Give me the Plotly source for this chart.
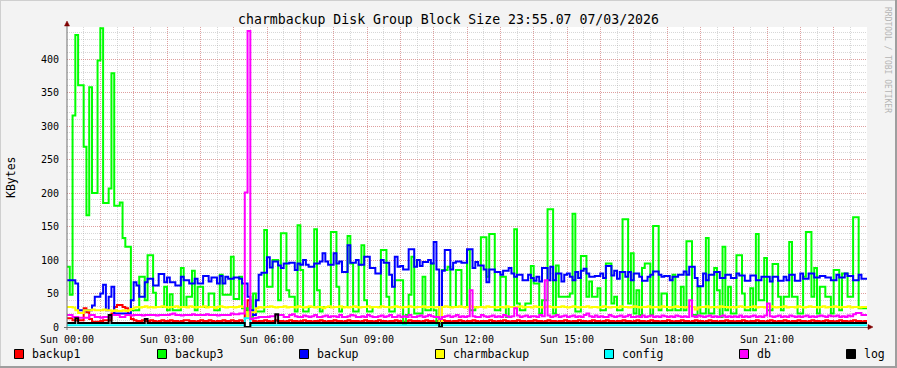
import numpy as np
import plotly.graph_objects as go

# ---------------- data (5-minute steps, 24 h, values in KBytes) ----------------
STEP_MIN = 5
TICK_LABELS = ["Sun 00:00", "Sun 03:00", "Sun 06:00", "Sun 09:00",
               "Sun 12:00", "Sun 15:00", "Sun 18:00", "Sun 21:00"]
Y_TICKS = [0, 50, 100, 150, 200, 250, 300, 350, 400]

BACKUP1 = [
    13, 13, 10, 10, 10, 10, 28, 22, 12, 8, 8, 8,
    9, 10, 10, 10, 20, 30, 33, 33, 30, 28, 18, 12,
    10, 9, 9, 10, 9, 9, 10, 9, 8, 9, 10, 9,
    9, 10, 9, 9, 8, 9, 10, 10, 9, 9, 8, 9,
    10, 9, 9, 10, 9, 8, 9, 9, 10, 9, 9, 10,
    9, 9, 10, 9, 25, 40, 12, 9, 8, 9, 9, 10,
    9, 8, 9, 10, 9, 9, 8, 9, 10, 9, 9, 8,
    9, 10, 9, 9, 8, 9, 9, 10, 9, 8, 9, 9,
    10, 9, 9, 8, 9, 10, 9, 9, 9, 8, 9, 10,
    9, 9, 8, 9, 10, 9, 9, 8, 9, 9, 10, 9,
    9, 8, 9, 10, 9, 9, 9, 8, 9, 10, 9, 9,
    8, 9, 9, 10, 9, 9, 8, 9, 9, 10, 9, 8,
    9, 9, 10, 9, 8, 9, 9, 9, 10, 9, 8, 9,
    9, 10, 9, 8, 9, 9, 10, 9, 9, 8, 9, 9,
    10, 9, 9, 8, 9, 10, 9, 9, 8, 9, 9, 10,
    9, 8, 9, 9, 10, 9, 9, 8, 9, 10, 9, 9,
    8, 9, 10, 9, 9, 8, 9, 9, 10, 9, 9, 8,
    9, 10, 9, 9, 8, 9, 10, 9, 9, 8, 9, 9,
    10, 9, 8, 9, 9, 10, 9, 9, 8, 9, 10, 9,
    9, 8, 9, 10, 9, 9, 8, 9, 9, 10, 9, 9,
    8, 9, 9, 10, 9, 8, 9, 9, 10, 9, 9, 8,
    9, 10, 9, 8, 9, 9, 10, 9, 8, 9, 9, 10,
    9, 9, 8, 9, 10, 9, 9, 8, 9, 10, 9, 9,
    8, 9, 10, 9, 9, 8, 9, 10, 9, 9, 8, 9,
]

BACKUP3 = [
    90, 48, 316, 436, 361, 361, 269, 167, 358, 200, 200, 398,
    446, 185, 185, 207, 379, 181, 181, 186, 133, 120, 120, 25,
    25, 25, 75, 75, 40, 107, 107, 51, 30, 30, 30, 60,
    25, 49, 25, 25, 25, 88, 30, 45, 45, 84, 25, 60,
    60, 30, 30, 50, 50, 25, 25, 78, 48, 48, 48, 105,
    42, 42, 75, 28, 28, 15, 15, 50, 23, 23, 23, 145,
    60, 60, 100, 100, 40, 140, 140, 55, 45, 45, 23, 152,
    85, 23, 23, 30, 30, 146, 55, 23, 30, 30, 30, 142,
    142, 60, 23, 30, 30, 136, 95, 23, 23, 93, 122, 40,
    23, 23, 30, 30, 30, 115, 115, 45, 23, 23, 70, 70,
    70, 3, 18, 48, 105, 20, 20, 20, 75, 25, 25, 95,
    25, 5, 5, 85, 85, 90, 30, 30, 85, 85, 30, 30,
    115, 25, 25, 30, 30, 134, 134, 75, 139, 139, 25, 25,
    75, 75, 15, 30, 30, 146, 35, 25, 25, 35, 35, 91,
    65, 65, 20, 40, 40, 176, 176, 20, 92, 45, 45, 45,
    45, 50, 169, 23, 23, 106, 106, 45, 68, 45, 45, 58,
    25, 25, 95, 95, 35, 45, 25, 25, 161, 161, 35, 110,
    20, 55, 18, 88, 95, 95, 18, 151, 151, 25, 50, 50,
    25, 25, 78, 25, 25, 60, 25, 128, 128, 18, 18, 60,
    20, 20, 133, 20, 20, 88, 55, 15, 120, 25, 60, 20,
    20, 107, 107, 50, 25, 25, 58, 25, 139, 40, 40, 103,
    25, 25, 94, 94, 45, 25, 45, 45, 127, 45, 45, 20,
    20, 75, 142, 142, 45, 88, 20, 60, 60, 45, 45, 20,
    85, 85, 25, 80, 80, 45, 45, 164, 164, 28, 28, 28,
]

BACKUP = [
    70, 70, 70, 65, 25, 25, 25, 25, 25, 32, 45, 45,
    50, 63, 25, 45, 60, 20, 20, 20, 20, 20, 20, 40,
    67, 62, 45, 45, 67, 72, 72, 62, 62, 79, 79, 67,
    74, 67, 67, 62, 62, 75, 70, 70, 65, 65, 72, 65,
    65, 76, 76, 68, 74, 74, 65, 76, 65, 75, 72, 72,
    74, 74, 72, 65, 65, 45, 25, 18, 40, 78, 81, 81,
    104, 89, 98, 98, 92, 88, 95, 95, 96, 96, 85, 95,
    93, 100, 93, 90, 90, 95, 95, 98, 110, 98, 93, 93,
    110, 95, 98, 82, 82, 122, 96, 96, 100, 93, 93, 105,
    105, 88, 88, 80, 80, 100, 96, 96, 78, 60, 105, 90,
    91, 86, 86, 116, 116, 90, 100, 91, 97, 97, 100, 95,
    127, 86, 2, 84, 115, 115, 86, 96, 98, 98, 96, 96,
    116, 116, 88, 97, 92, 92, 86, 67, 86, 86, 82, 82,
    78, 84, 84, 88, 80, 75, 78, 78, 70, 70, 78, 73,
    69, 75, 68, 88, 88, 70, 90, 70, 80, 80, 68, 78,
    80, 75, 70, 82, 73, 84, 87, 80, 75, 75, 76, 76,
    80, 73, 91, 91, 77, 84, 72, 82, 82, 75, 82, 70,
    80, 80, 75, 69, 69, 75, 78, 83, 83, 78, 75, 76,
    76, 70, 75, 75, 78, 78, 83, 78, 90, 90, 73, 61,
    61, 80, 70, 78, 78, 82, 82, 73, 73, 78, 78, 73,
    73, 80, 77, 77, 69, 69, 77, 77, 70, 70, 75, 75,
    75, 68, 75, 75, 69, 69, 75, 70, 78, 78, 69, 69,
    80, 72, 72, 80, 80, 74, 74, 76, 76, 74, 74, 70,
    70, 78, 74, 74, 80, 76, 76, 70, 70, 78, 72, 72,
]

CHARMBACKUP = [
    30, 30, 29, 25, 21, 21, 25, 25, 25, 26, 25, 25,
    25, 26, 25, 25, 24, 25, 24, 24, 25, 24, 25, 27,
    29, 30, 29, 30, 31, 29, 30, 29, 30, 30, 31, 30,
    29, 30, 30, 31, 29, 30, 30, 29, 31, 30, 29, 30,
    30, 31, 29, 30, 30, 28, 30, 31, 30, 29, 30, 30,
    29, 30, 31, 30, 22, 15, 22, 22, 28, 30, 29, 30,
    30, 31, 30, 29, 30, 30, 31, 29, 30, 30, 29, 31,
    30, 29, 30, 31, 30, 29, 30, 30, 28, 30, 31, 29,
    30, 30, 31, 29, 30, 29, 30, 31, 30, 29, 30, 30,
    31, 29, 30, 30, 29, 31, 30, 30, 29, 30, 31, 30,
    29, 30, 30, 31, 30, 29, 30, 30, 31, 29, 30, 30,
    29, 30, 3, 30, 31, 30, 29, 30, 30, 31, 30, 29,
    30, 31, 30, 29, 30, 30, 29, 31, 30, 30, 29, 30,
    30, 29, 31, 30, 30, 29, 30, 31, 29, 30, 30, 29,
    31, 30, 30, 29, 30, 31, 30, 29, 30, 30, 31, 30,
    29, 30, 31, 30, 29, 30, 30, 31, 29, 30, 30, 29,
    30, 31, 30, 29, 30, 30, 29, 31, 30, 30, 29, 30,
    31, 30, 29, 30, 30, 31, 29, 30, 30, 29, 31, 30,
    30, 29, 30, 31, 30, 30, 29, 30, 31, 30, 26, 29,
    30, 30, 31, 29, 30, 30, 29, 31, 30, 30, 29, 30,
    29, 30, 31, 30, 29, 30, 30, 31, 29, 30, 30, 29,
    30, 31, 30, 29, 30, 30, 31, 29, 30, 30, 29, 31,
    30, 29, 30, 31, 30, 30, 29, 30, 31, 29, 30, 30,
    31, 30, 29, 30, 30, 31, 29, 30, 30, 29, 30, 30,
]

CONFIG = [
    2.5, 2.5, 2.5, 2.5, 2.5, 2.5, 2.5, 2.5, 2.5, 2.5, 2.5, 2.5,
    2.5, 2.5, 2.5, 2.5, 2.5, 2.5, 2.5, 2.5, 2.5, 2.5, 2.5, 2.5,
    2.5, 2.5, 2.5, 2.5, 2.5, 2.5, 2.5, 2.5, 2.5, 2.5, 2.5, 2.5,
    2.5, 2.5, 2.5, 2.5, 2.5, 2.5, 2.5, 2.5, 2.5, 2.5, 2.5, 2.5,
    2.5, 2.5, 2.5, 2.5, 2.5, 2.5, 2.5, 2.5, 2.5, 2.5, 2.5, 2.5,
    2.5, 2.5, 2.5, 2.5, 13, 13, 2.5, 2.5, 2.5, 2.5, 2.5, 2.5,
    2.5, 2.5, 2.5, 2.5, 2.5, 2.5, 2.5, 2.5, 2.5, 2.5, 2.5, 2.5,
    2.5, 2.5, 2.5, 2.5, 2.5, 2.5, 2.5, 2.5, 2.5, 2.5, 2.5, 2.5,
    2.5, 2.5, 2.5, 2.5, 2.5, 2.5, 2.5, 2.5, 2.5, 2.5, 2.5, 2.5,
    2.5, 2.5, 2.5, 2.5, 2.5, 2.5, 2.5, 2.5, 2.5, 2.5, 2.5, 2.5,
    2.5, 2.5, 2.5, 2.5, 2.5, 2.5, 2.5, 2.5, 2.5, 2.5, 2.5, 2.5,
    2.5, 2.5, 2.5, 2.5, 2.5, 2.5, 2.5, 2.5, 2.5, 2.5, 2.5, 2.5,
    2.5, 2.5, 2.5, 2.5, 2.5, 2.5, 2.5, 2.5, 2.5, 2.5, 2.5, 2.5,
    2.5, 2.5, 2.5, 2.5, 2.5, 2.5, 2.5, 2.5, 2.5, 2.5, 2.5, 2.5,
    2.5, 2.5, 2.5, 2.5, 2.5, 2.5, 2.5, 2.5, 2.5, 2.5, 2.5, 2.5,
    2.5, 2.5, 2.5, 2.5, 2.5, 2.5, 2.5, 2.5, 2.5, 2.5, 2.5, 2.5,
    2.5, 2.5, 2.5, 2.5, 2.5, 2.5, 2.5, 2.5, 2.5, 2.5, 2.5, 2.5,
    2.5, 2.5, 2.5, 2.5, 2.5, 2.5, 2.5, 2.5, 2.5, 2.5, 2.5, 2.5,
    2.5, 2.5, 2.5, 2.5, 2.5, 2.5, 2.5, 2.5, 2.5, 2.5, 2.5, 2.5,
    2.5, 2.5, 2.5, 2.5, 2.5, 2.5, 2.5, 2.5, 2.5, 2.5, 2.5, 2.5,
    2.5, 2.5, 2.5, 2.5, 2.5, 2.5, 2.5, 2.5, 2.5, 2.5, 2.5, 2.5,
    2.5, 2.5, 2.5, 2.5, 2.5, 2.5, 2.5, 2.5, 2.5, 2.5, 2.5, 2.5,
    2.5, 2.5, 2.5, 2.5, 2.5, 2.5, 2.5, 2.5, 2.5, 2.5, 2.5, 2.5,
    2.5, 2.5, 2.5, 2.5, 2.5, 2.5, 2.5, 2.5, 2.5, 2.5, 2.5, 2.5,
]

DB = [
    18, 18, 15, 15, 14, 14, 14, 14, 18, 18, 15, 15,
    14, 15, 15, 14, 18, 18, 18, 15, 15, 18, 18, 17,
    18, 18, 18, 17, 18, 18, 18, 18, 17, 18, 18, 18,
    18, 19, 20, 18, 18, 17, 18, 18, 18, 19, 18, 18,
    18, 18, 19, 18, 18, 18, 17, 18, 18, 18, 18, 20,
    19, 19, 20, 20, 201, 442, 12, 13, 14, 15, 15, 15,
    15, 16, 16, 18, 18, 18, 15, 15, 18, 19, 16, 15,
    15, 17, 16, 15, 16, 18, 15, 15, 16, 17, 15, 16,
    16, 15, 18, 15, 15, 16, 18, 17, 15, 15, 16, 15,
    18, 16, 15, 15, 16, 17, 15, 16, 18, 15, 15, 17,
    15, 16, 15, 18, 15, 15, 16, 17, 15, 16, 18, 16,
    15, 15, 12, 15, 16, 17, 15, 16, 18, 15, 16, 15,
    16, 55, 16, 15, 15, 18, 16, 15, 16, 17, 15, 16,
    15, 18, 16, 15, 16, 28, 17, 15, 16, 17, 15, 16,
    16, 15, 18, 16, 70, 17, 15, 16, 18, 15, 16, 17,
    15, 16, 17, 15, 16, 15, 18, 20, 16, 15, 17, 15,
    16, 15, 15, 18, 16, 15, 16, 17, 15, 16, 18, 15,
    15, 16, 15, 17, 15, 16, 17, 15, 16, 15, 17, 16,
    15, 16, 15, 17, 16, 15, 16, 15, 40, 16, 15, 17,
    16, 15, 16, 17, 15, 16, 15, 16, 17, 15, 16, 15,
    16, 15, 17, 15, 16, 15, 16, 17, 15, 16, 15, 17,
    35, 16, 15, 16, 17, 15, 16, 15, 17, 16, 15, 16,
    15, 16, 17, 15, 16, 15, 16, 17, 16, 15, 17, 16,
    16, 17, 15, 16, 15, 17, 16, 19, 21, 21, 18, 18,
]

LOG = [
    6, 6, 6, 13, 6, 6, 6, 6, 6, 6, 6, 6,
    6, 6, 6, 18, 6, 6, 6, 6, 6, 6, 6, 6,
    6, 6, 6, 6, 12, 6, 6, 6, 6, 6, 6, 6,
    6, 6, 6, 6, 6, 6, 6, 6, 6, 6, 6, 6,
    6, 6, 6, 6, 6, 6, 6, 6, 6, 6, 6, 6,
    6, 6, 6, 6, 0, 0, 6, 6, 6, 6, 6, 6,
    6, 6, 6, 19, 6, 6, 6, 6, 6, 6, 6, 6,
    6, 6, 6, 6, 6, 6, 6, 6, 6, 6, 6, 6,
    6, 6, 6, 6, 6, 6, 6, 6, 6, 6, 6, 6,
    6, 6, 6, 6, 6, 6, 6, 6, 6, 6, 6, 6,
    6, 6, 6, 6, 6, 6, 6, 6, 6, 6, 6, 6,
    6, 6, 0, 6, 6, 6, 6, 6, 6, 6, 6, 6,
    6, 6, 6, 6, 6, 6, 6, 6, 6, 6, 6, 6,
    6, 6, 6, 6, 6, 6, 6, 6, 6, 6, 6, 6,
    6, 6, 6, 6, 6, 6, 6, 6, 6, 6, 6, 6,
    6, 6, 6, 6, 6, 6, 6, 6, 6, 6, 6, 6,
    6, 6, 6, 6, 6, 6, 6, 6, 6, 6, 6, 6,
    6, 6, 6, 6, 6, 6, 6, 6, 6, 6, 6, 6,
    6, 6, 6, 6, 6, 6, 6, 6, 6, 6, 6, 6,
    6, 6, 6, 6, 6, 6, 6, 6, 6, 6, 6, 6,
    6, 6, 6, 6, 6, 6, 6, 6, 6, 6, 6, 6,
    6, 6, 6, 6, 6, 6, 6, 6, 6, 6, 6, 6,
    6, 6, 6, 6, 6, 6, 6, 6, 6, 6, 6, 6,
    6, 6, 6, 6, 6, 6, 6, 6, 6, 6, 6, 6,
]

SERIES = [
    ("backup1", BACKUP1, "#FF0000"),
    ("backup3", BACKUP3, "#00FF00"),
    ("backup", BACKUP, "#0000FF"),
    ("charmbackup", CHARMBACKUP, "#FFFF00"),
    ("config", CONFIG, "#00FFFF"),
    ("db", DB, "#FF00FF"),
    ("log", LOG, "#000000"),
]

# ---------------- geometry helpers (pixel -> paper) ----------------
W, H = 897, 368
PL, PR, PT, PB = 67, 867, 27, 327   # plot area in pixels


def px(x):
    return (x - PL) / (PR - PL)


def py(y):
    return (PB - y) / (PB - PT)


MONO = "DejaVu Sans Mono"

fig = go.Figure()
for name, vals, color in SERIES:
    n = len(vals)
    t = np.arange(n + 1) * STEP_MIN / 60.0
    fig.add_trace(go.Scatter(
        x=t, y=list(vals) + [vals[-1]], mode="lines", name=name,
        line=dict(color=color, width=2, shape="hv"),
        hoverinfo="skip", showlegend=False,
    ))

hour_vals = list(range(0, 25))
hour_text = [TICK_LABELS[h // 3] if (h % 3 == 0 and h < 24) else "" for h in hour_vals]

MAJOR = "rgba(230,90,90,0.45)"
MINOR = "rgba(150,150,150,0.38)"

fig.update_layout(
    width=W, height=H,
    margin=dict(l=PL, r=W - PR, t=PT, b=H - PB),
    paper_bgcolor="#F3F3F3", plot_bgcolor="#FFFFFF",
    font=dict(family=MONO, size=10, color="#000000"),
    title=dict(text="charmbackup Disk Group Block Size 23:55.07 07/03/2026",
               x=0.5, xanchor="center", y=1 - 19 / H, yanchor="middle",
               font=dict(family=MONO, size=13.2, color="#000000")),
    xaxis=dict(range=[0, 24], tickmode="array", tickvals=hour_vals, ticktext=hour_text,
               showgrid=True, gridcolor=MAJOR, griddash="1px,1px", gridwidth=1,
               minor=dict(dtick=0.5, tick0=0, showgrid=True, gridcolor=MINOR,
                          griddash="1px,1px", gridwidth=1),
               zeroline=False, showline=False, ticks="outside", ticklen=3,
               tickcolor="rgba(0,0,0,0)",
               tickfont=dict(family=MONO, size=10, color="#000000")),
    yaxis=dict(range=[0, 448], tickmode="array", tickvals=Y_TICKS,
               ticktext=[str(v) for v in Y_TICKS],
               showgrid=True, gridcolor=MAJOR, griddash="1px,1px", gridwidth=1,
               minor=dict(dtick=10, tick0=0, showgrid=True, gridcolor=MINOR,
                          griddash="1px,1px", gridwidth=1),
               zeroline=False, showline=False, ticks="outside", ticklen=5,
               tickcolor="rgba(0,0,0,0)",
               tickfont=dict(family=MONO, size=10, color="#000000")),
)

shapes = []
# frame shading
shapes.append(dict(type="line", xref="paper", yref="paper", x0=px(0), x1=px(W), y0=py(0.5), y1=py(0.5),
                   line=dict(color="#CFCFCF", width=1)))
shapes.append(dict(type="line", xref="paper", yref="paper", x0=px(0.5), x1=px(0.5), y0=py(0), y1=py(H),
                   line=dict(color="#CFCFCF", width=1)))
shapes.append(dict(type="line", xref="paper", yref="paper", x0=px(0), x1=px(W), y0=py(H - 1), y1=py(H - 1),
                   line=dict(color="#9E9E9E", width=2)))
shapes.append(dict(type="line", xref="paper", yref="paper", x0=px(W - 1), x1=px(W - 1), y0=py(0), y1=py(H),
                   line=dict(color="#9E9E9E", width=2)))
# axes
AXIS = "#6E6E6E"
shapes.append(dict(type="line", xref="paper", yref="paper", x0=px(64), x1=px(870), y0=py(327.5), y1=py(327.5),
                   line=dict(color=AXIS, width=1)))
shapes.append(dict(type="line", xref="paper", yref="paper", x0=px(67), x1=px(67), y0=py(330), y1=py(24),
                   line=dict(color=AXIS, width=1)))
# arrows
ARROW = "#7F0000"
shapes.append(dict(type="path", xref="paper", yref="paper",
                   path=f"M {px(64.5)},{py(26)} L {px(69.5)},{py(26)} L {px(67)},{py(21)} Z",
                   fillcolor=ARROW, line=dict(color=ARROW, width=0.5)))
shapes.append(dict(type="path", xref="paper", yref="paper",
                   path=f"M {px(868)},{py(324.5)} L {px(868)},{py(329.5)} L {px(873)},{py(327)} Z",
                   fillcolor=ARROW, line=dict(color=ARROW, width=0.5)))

# legend boxes and labels
LEG_X = [14.5, 157.5, 299.5, 435.5, 604.5, 739.5, 846.5]
annotations = []
for (name, vals, color), lx in zip(SERIES, LEG_X):
    shapes.append(dict(type="rect", xref="paper", yref="paper",
                       x0=px(lx), x1=px(lx + 9), y0=py(358.5), y1=py(349.5),
                       fillcolor=color, line=dict(color="#000000", width=1)))
    annotations.append(dict(text=name, xref="paper", yref="paper", x=px(lx + 15), y=py(354),
                            xanchor="left", yanchor="middle", showarrow=False,
                            font=dict(family=MONO, size=11.5, color="#000000")))

annotations.append(dict(text="KBytes", xref="paper", yref="paper", x=px(11), y=py(177),
                        xanchor="center", yanchor="middle", textangle=-90, showarrow=False,
                        font=dict(family=MONO, size=11.5, color="#000000")))
annotations.append(dict(text="RRDTOOL / TOBI OETIKER", xref="paper", yref="paper", x=px(887), y=py(60),
                        xanchor="center", yanchor="middle", textangle=90, showarrow=False,
                        font=dict(family=MONO, size=8, color="#B5B5B5")))

fig.update_layout(shapes=shapes, annotations=annotations)
fig.write_html("out.html", config={"displayModeBar": False},
               post_script="document.body.style.margin='0';document.body.style.padding='0';")
